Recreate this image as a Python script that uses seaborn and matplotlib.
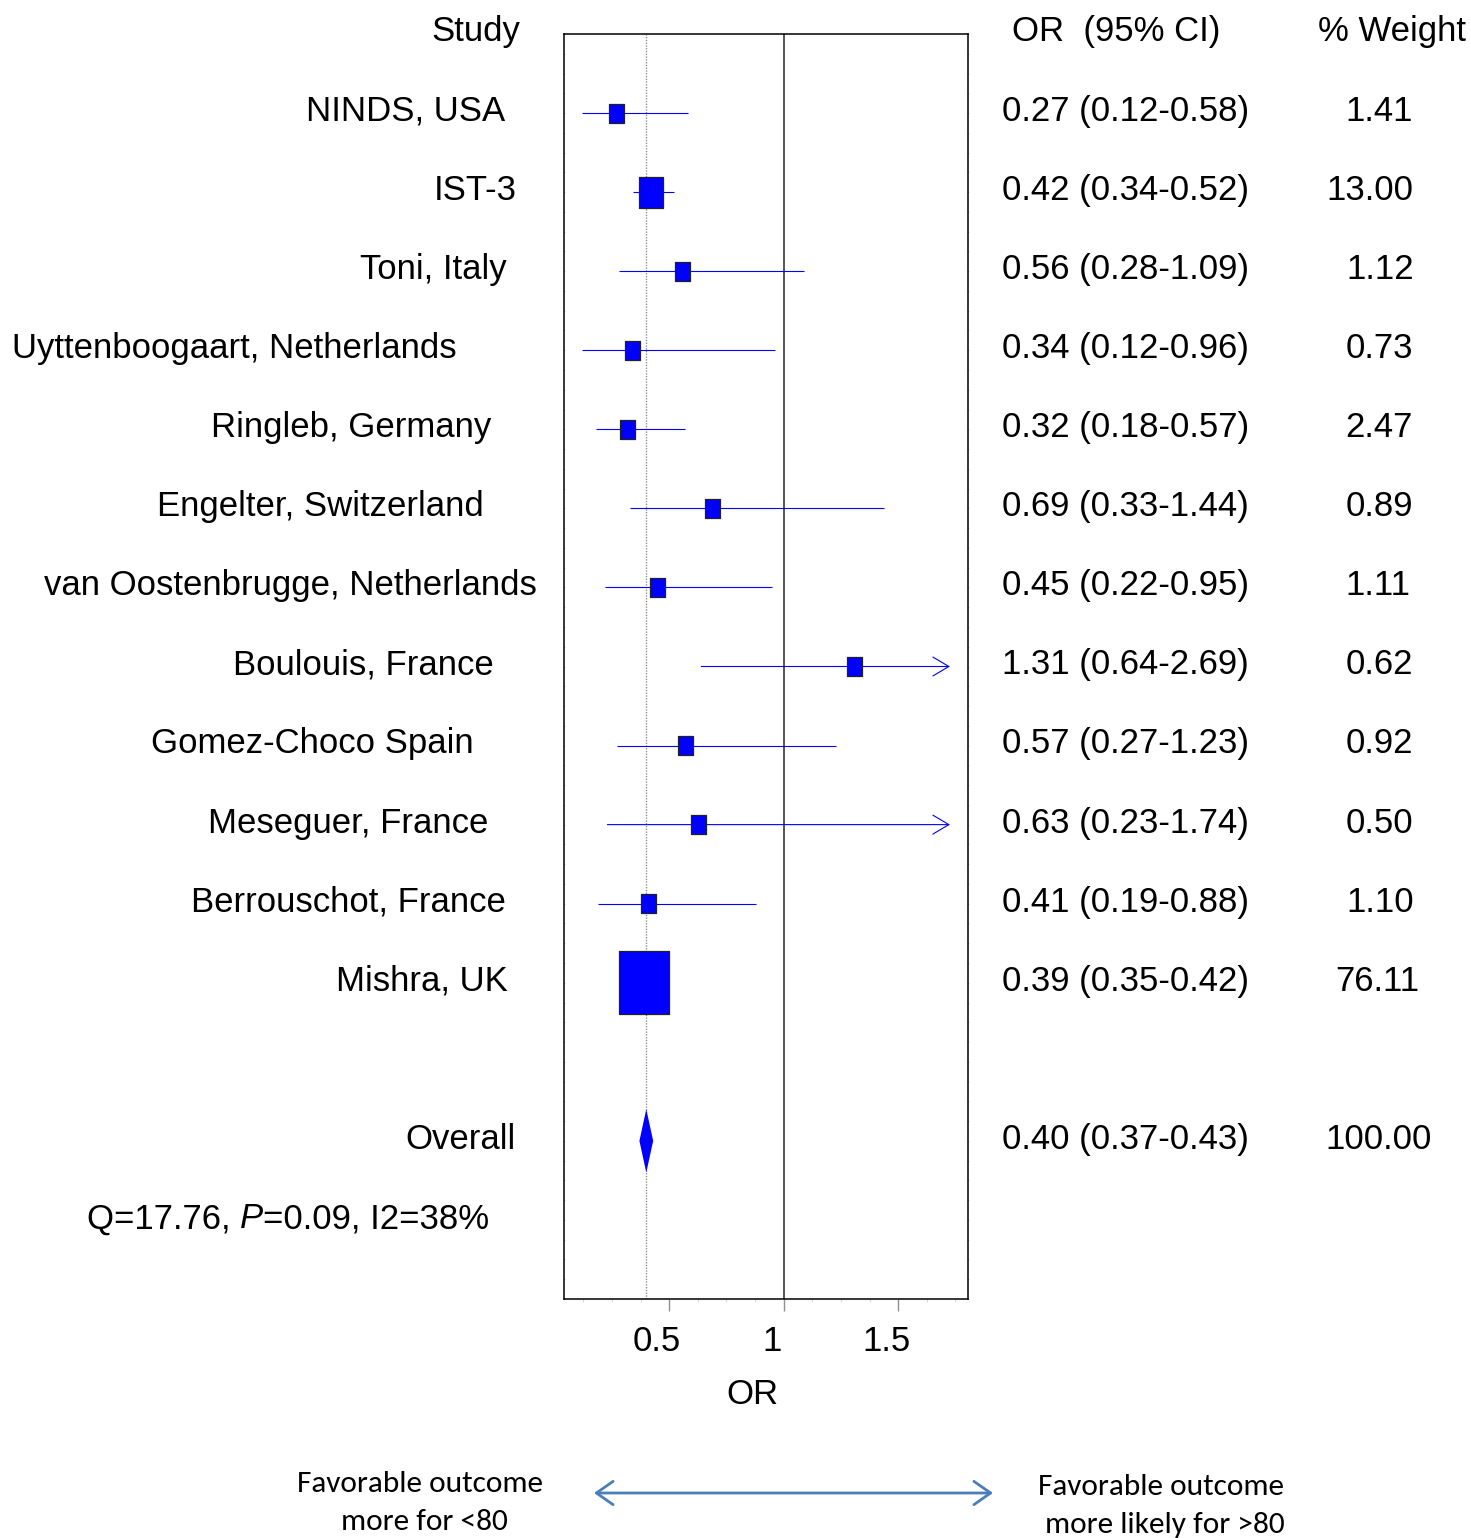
import numpy as np
import pandas as pd
import matplotlib
matplotlib.use("Agg")
import matplotlib.pyplot as plt
import seaborn as sns
from matplotlib.transforms import blended_transform_factory, ScaledTranslation
from matplotlib.patches import Polygon, FancyArrowPatch

# ---------------- data ----------------
studies = ["NINDS, USA", "IST-3", "Toni, Italy", "Uyttenboogaart, Netherlands",
           "Ringleb, Germany", "Engelter, Switzerland", "van Oostenbrugge, Netherlands",
           "Boulouis, France", "Gomez-Choco Spain", "Meseguer, France",
           "Berrouschot, France", "Mishra, UK"]
odds_ratio = [0.27, 0.42, 0.56, 0.34, 0.32, 0.69, 0.45, 1.31, 0.57, 0.63, 0.41, 0.39]
ci_low = [0.12, 0.34, 0.28, 0.12, 0.18, 0.33, 0.22, 0.64, 0.27, 0.23, 0.19, 0.35]
ci_high = [0.58, 0.52, 1.09, 0.96, 0.57, 1.44, 0.95, 2.69, 1.23, 1.74, 0.88, 0.42]
weights = [1.41, 13.00, 1.12, 0.73, 2.47, 0.89, 1.11, 0.62, 0.92, 0.50, 1.10, 76.11]
or_labels = ["0.27 (0.12-0.58)", "0.42 (0.34-0.52)", "0.56 (0.28-1.09)", "0.34 (0.12-0.96)",
             "0.32 (0.18-0.57)", "0.69 (0.33-1.44)", "0.45 (0.22-0.95)", "1.31 (0.64-2.69)",
             "0.57 (0.27-1.23)", "0.63 (0.23-1.74)", "0.41 (0.19-0.88)", "0.39 (0.35-0.42)"]
weight_labels = ["1.41", "13.00", "1.12", "0.73", "2.47", "0.89", "1.11", "0.62",
                 "0.92", "0.50", "1.10", "76.11"]
overall_label = "Overall"
overall_or = 0.40
overall_low = 0.37
overall_high = 0.43
overall_or_label = "0.40 (0.37-0.43)"
overall_weight_label = "100.00"
heterogeneity = ["Q=17.76, ", "P", "=0.09, I2=38%"]
x_ticks = [0.5, 1.0, 1.5]
x_tick_labels = ["0.5", "1", "1.5"]

# ---------------- layout (figure pixels) ----------------
W, H = 1471, 1538
DPI = 100
label_left_px = [306, 434, 360, 12, 211, 157, 44, 233, 151, 208, 191, 336]
overall_left_px = 405
weight_center_px = [1379, 1370, 1380, 1379, 1379, 1379, 1378, 1379, 1379, 1379, 1380, 1377]

sns.set_theme(style="white")
FONT = ["Liberation Sans", "DejaVu Sans"]
plt.rcParams["font.family"] = FONT
plt.rcParams["text.color"] = "black"
plt.rcParams["xtick.labelcolor"] = "black"
FS = 25

fig = plt.figure(figsize=(W / DPI, H / DPI), dpi=DPI)
ax_l, ax_r, ax_t, ax_b = 564.3, 967.7, 34, 1299
ax = fig.add_axes([ax_l / W, 1 - ax_b / H, (ax_r - ax_l) / W, (ax_b - ax_t) / H])

n = len(studies)
df = pd.DataFrame({"study": studies, "OR": odds_ratio, "lo": ci_low, "hi": ci_high,
                   "w": weights, "row": np.arange(n)})
overall_row = n + 1
xmin, xmax = 0.042, 1.8035
ax.set_xlim(xmin, xmax)
ax.set_ylim(15, -1)

# reference lines
ax.axvline(overall_or, color="#909090", lw=1.0, ls=(0, (1, 1)), zorder=1)
ax.axvline(1.0, color="#555555", lw=1.4, zorder=1)

# confidence intervals (arrows when they run past the drawing area)
arrow_end = 1.726
for _, r in df.iterrows():
    if r["hi"] > arrow_end:
        ax.annotate("", xy=(arrow_end, r["row"]), xytext=(r["lo"], r["row"]),
                    arrowprops=dict(arrowstyle="->,head_length=1.15,head_width=0.68",
                                    color="blue", lw=0.8, mutation_scale=10,
                                    shrinkA=0, shrinkB=0), zorder=2)
    else:
        ax.hlines(r["row"], r["lo"], r["hi"], color="blue", lw=0.8, zorder=2)

# squares sized by weight (taller than wide)
pt = 72.0 / DPI
heights_px = np.maximum(19.0, 63.0 * (np.array(weights) / max(weights)) ** 0.4)
sizes = (heights_px * pt) ** 2
rect_marker = [(-0.395, -0.5), (0.395, -0.5), (0.395, 0.5), (-0.395, 0.5), (-0.395, -0.5)]
sns.scatterplot(data=df, x="OR", y="row", marker=rect_marker, s=sizes, color="blue",
                edgecolor="#222222", linewidth=0.9, ax=ax, zorder=3, legend=False)

# overall diamond
dh = 0.4
ax.add_patch(Polygon([(overall_low, overall_row), (overall_or, overall_row - dh),
                      (overall_high, overall_row), (overall_or, overall_row + dh)],
                     closed=True, facecolor="blue", edgecolor="none", zorder=3))

# axes styling
for s in ax.spines.values():
    s.set_color("black")
    s.set_linewidth(1.1)
ax.set_xlabel("")
ax.set_ylabel("")
ax.set_yticks([])
ax.set_yticks(np.arange(-1, 15.01, 0.25), minor=True)
ax.tick_params(axis="y", which="minor", left=True, right=True, length=2, width=0.5,
               color="#c8c8c8", direction="inout")
ax.set_xticks(x_ticks)
ax.set_xticklabels(x_tick_labels, fontsize=FS)
ax.set_xticks(np.arange(0.125, 1.8, 0.125), minor=True)
ax.tick_params(axis="x", which="major", bottom=True, length=8.5, width=1.0,
               color="#909090", pad=10, labelcolor="black")
ax.tick_params(axis="x", which="minor", bottom=True, length=2.5, width=0.5,
               color="#c8c8c8")
shift = ScaledTranslation(-12 / DPI, 0, fig.dpi_scale_trans)
for lab in ax.get_xticklabels():
    lab.set_transform(lab.get_transform() + shift)
ax.grid(False)


def fx(px):
    return px / W


def fy(px):
    return 1 - px / H


tr = blended_transform_factory(fig.transFigure, ax.transData)
dy = -0.02

# headers
fig.text(fx(431), fy(32), "Study", fontsize=FS, va="center", ha="left")
fig.text(fx(1012), fy(32), "OR  (95% CI)", fontsize=FS, va="center", ha="left")
fig.text(fx(1318), fy(32), "% Weight", fontsize=FS, va="center", ha="left")

for i in range(n):
    fig.text(fx(label_left_px[i]), i + dy, studies[i], transform=tr, fontsize=FS,
             va="center", ha="left")
    fig.text(fx(1002), i + dy, or_labels[i], transform=tr, fontsize=FS,
             va="center", ha="left")
    fig.text(fx(weight_center_px[i]), i + dy, weight_labels[i], transform=tr, fontsize=FS,
             va="center", ha="center")

fig.text(fx(overall_left_px), overall_row + dy, overall_label, transform=tr,
         fontsize=FS, va="center", ha="left")
fig.text(fx(1002), overall_row + dy, overall_or_label, transform=tr, fontsize=FS,
         va="center", ha="left")
fig.text(fx(1379), overall_row + dy, overall_weight_label, transform=tr, fontsize=FS,
         va="center", ha="center")

# heterogeneity text with italic P
q_y = fy(1219)
t1 = fig.text(fx(87), q_y, heterogeneity[0], fontsize=FS, va="center", ha="left")
fig.canvas.draw()
r = fig.canvas.get_renderer()
bb = t1.get_window_extent(r)
t2 = fig.text(bb.x1 / W, q_y, heterogeneity[1], fontsize=FS, va="center", ha="left",
              style="italic")
bb2 = t2.get_window_extent(r)
fig.text(bb2.x1 / W, q_y, heterogeneity[2], fontsize=FS, va="center", ha="left")

# x label
fig.text(fx(752), fy(1395), "OR", fontsize=FS, va="center", ha="center")

# bottom annotation
BF = ["Carlito", "DejaVu Sans"]
BFS = 22.6
fig.text(fx(420), fy(1484), "Favorable outcome", fontsize=BFS, family=BF,
         va="center", ha="center")
fig.text(fx(424), fy(1522), "more for <80", fontsize=BFS, family=BF,
         va="center", ha="center")
fig.text(fx(1161), fy(1487), "Favorable outcome", fontsize=BFS, family=BF,
         va="center", ha="center")
fig.text(fx(1165), fy(1525), "more likely for >80", fontsize=BFS, family=BF,
         va="center", ha="center")
fig.patches.append(FancyArrowPatch(
    (fx(594), fy(1493)), (fx(993), fy(1493)), transform=fig.transFigure,
    arrowstyle="<->,head_length=1.0,head_width=0.7", mutation_scale=12,
    color="#4A7EBB", lw=2.0, shrinkA=0, shrinkB=0))

fig.savefig("out.png", dpi=DPI, facecolor="white")
